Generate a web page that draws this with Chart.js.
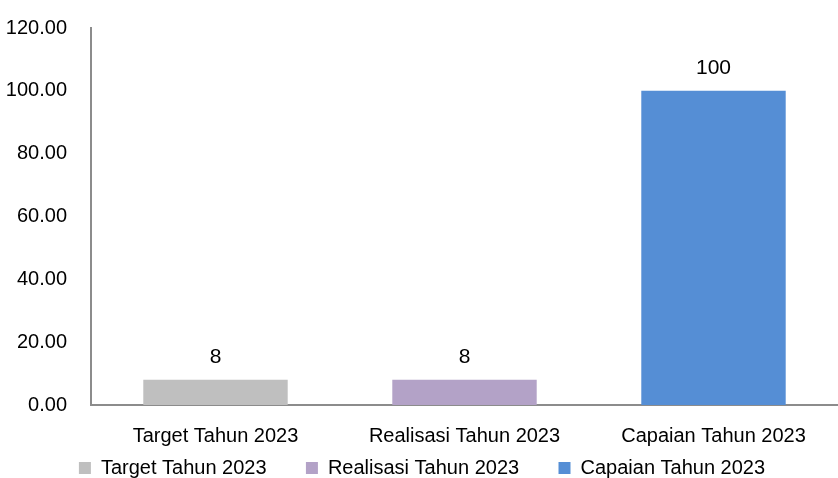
<!DOCTYPE html>
<html>
<head>
<meta charset="utf-8">
<script src="https://cdn.jsdelivr.net/npm/chart.js@4"></script>
<style>
  html, body { margin: 0; padding: 0; background: #fff; }
  #wrap { width: 838px; height: 478px; }
</style>
</head>
<body>
<div id="wrap"><canvas id="myChart" width="838" height="478"></canvas></div>
<script>
// chart data
const categories = ['Target Tahun 2023', 'Realisasi Tahun 2023', 'Capaian Tahun 2023'];
const values = [8, 8, 100];
const barColors = ['#BFBFBF', '#B3A2C7', '#558ED5'];
const yTicks = [0, 20, 40, 60, 80, 100, 120];

const fontFamily = '"Liberation Sans Narrow", "Arial Narrow", "Liberation Sans", sans-serif';

// value labels above bars
const valueLabels = {
    id: 'valueLabels',
    afterDatasetsDraw(chart) {
        const ctx = chart.ctx;
        const meta = chart.getDatasetMeta(0);
        ctx.save();
        ctx.font = '21px ' + fontFamily;
        ctx.fillStyle = '#000';
        ctx.textAlign = 'center';
        ctx.textBaseline = 'middle';
        meta.data.forEach((bar, i) => {
            ctx.fillText(String(values[i]), bar.x, bar.y - 23);
        });
        ctx.restore();
    }
};

// legend spacing: trailing spaces between items (not after the last one)
const legendGap = '      ';

const data = {
    labels: categories,
    datasets: [{
        label: 'Nilai',
        data: values,
        backgroundColor: barColors,
        borderWidth: 0,
        categoryPercentage: 1,
        barPercentage: 0.58
    }]
};

const config = {
    type: 'bar',
    data: data,
    options: {
        responsive: false,
        animation: false,
        layout: { padding: { top: 28, right: 0, left: 6, bottom: -10 } },
        plugins: {
            tooltip: { enabled: false },
            legend: {
                position: 'bottom',
                labels: {
                    font: { family: fontFamily, size: 20 },
                    color: '#000',
                    boxWidth: 12,
                    boxHeight: 12,
                    padding: 6,
                    generateLabels: () => categories.map((c, i) => ({
                        text: i < categories.length - 1 ? c + legendGap : c,
                        fillStyle: barColors[i],
                        strokeStyle: barColors[i],
                        lineWidth: 0,
                        index: i
                    }))
                }
            }
        },
        scales: {
            x: {
                grid: { display: false, drawTicks: false },
                border: { color: '#8C8C8C', width: 2 },
                afterFit: (axis) => {
                    axis.height = axis.height - 15;
                },
                ticks: {
                    font: { family: fontFamily, size: 20 },
                    color: '#000',
                    padding: 19,
                    maxRotation: 0
                }
            },
            y: {
                min: 0,
                max: 120,
                grid: { display: false, drawTicks: true, tickLength: 22 },
                border: { color: '#8C8C8C', width: 2 },
                afterBuildTicks: (axis) => {
                    axis.ticks = yTicks.map(v => ({ value: v }));
                },
                afterFit: (axis) => {
                    axis.width = 85;
                },
                ticks: {
                    font: { family: fontFamily, size: 20 },
                    color: '#000',
                    padding: 2,
                    callback: (v) => Number(v).toFixed(2)
                }
            }
        }
    },
    plugins: [valueLabels]
};

const myChart = new Chart(document.getElementById('myChart'), config);
</script>
</body>
</html>
